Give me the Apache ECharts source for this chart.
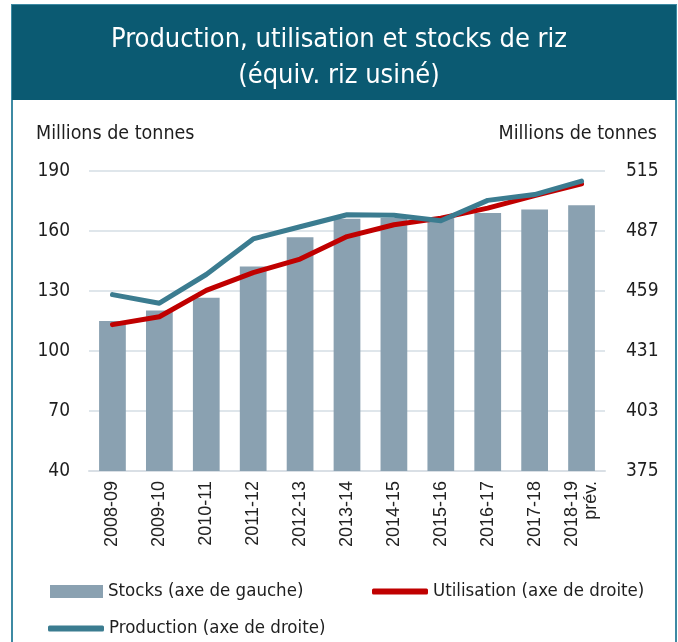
<!DOCTYPE html>
<html>
<head>
<meta charset="utf-8">
<script src="https://cdn.jsdelivr.net/npm/echarts@6/dist/echarts.min.js"></script>
<style>
  html, body { margin: 0; padding: 0; background: #fff; }
  #chart { width: 678px; height: 642px; }
</style>
</head>
<body>
<div id="chart"></div>
<script>
// campagnes
var seasons = ["2008-09", "2009-10", "2010-11", "2011-12", "2012-13", "2013-14",
  "2014-15", "2015-16", "2016-17", "2017-18", "2018-19\nprév."];
// stocks, axe de gauche
var stocks = [115.0, 120.2, 126.6, 142.3, 156.9, 166.1, 166.5, 166.8, 169.0, 170.7, 172.9];
// axe de droite
var utilisation = [443.3, 447.0, 459.3, 467.6, 473.9, 484.4, 489.9, 493.0, 497.7, 503.5, 509.0];
var production = [457.3, 453.3, 466.7, 483.3, 489.0, 494.6, 494.3, 491.8, 501.3, 504.0, 510.3];

var font = "'DejaVu Sans Condensed', 'DejaVu Sans', sans-serif";
var txt = "#1e1e1e";

var chart = echarts.init(document.getElementById("chart"));
chart.setOption({
  animation: false,
  backgroundColor: "#fff",
  graphic: [
    {
      type: "rect",
      z: 0,
      shape: { x: 12, y: 5, width: 664, height: 660 },
      style: { fill: "none", stroke: "#3d8aa3", lineWidth: 2 }
    },
    {
      type: "rect",
      z: 1,
      shape: { x: 12, y: 5, width: 664, height: 95 },
      style: { fill: "#0b5a72" }
    }
  ],
  title: [
    {
      text: "Production, utilisation et stocks de riz\n(équiv. riz usiné)",
      left: "center",
      top: 17,
      textStyle: { color: "#fff", fontFamily: font, fontSize: 27, fontWeight: "normal", lineHeight: 36 }
    },
    {
      text: "Millions de tonnes",
      left: 31,
      top: 119,
      textStyle: { color: txt, fontFamily: font, fontSize: 19.5, fontWeight: "normal" }
    },
    {
      text: "Millions de tonnes",
      right: 16,
      top: 119,
      textStyle: { color: txt, fontFamily: font, fontSize: 19.5, fontWeight: "normal" }
    }
  ],
  grid: { left: 89, right: 73, top: 171, bottom: 171 },
  legend: [
    {
      data: ["Stocks (axe de gauche)"],
      left: 45, top: 577,
      itemWidth: 53, itemHeight: 13, icon: "rect",
      textStyle: { color: txt, fontFamily: font, fontSize: 18.5 }
    },
    {
      data: ["Utilisation (axe de droite)"],
      left: 367, top: 577,
      itemWidth: 56, itemHeight: 6, icon: "roundRect",
      textStyle: { color: txt, fontFamily: font, fontSize: 18.5 }
    },
    {
      data: ["Production (axe de droite)"],
      left: 43, top: 614,
      itemWidth: 56, itemHeight: 6, icon: "roundRect",
      textStyle: { color: txt, fontFamily: font, fontSize: 18.5 }
    }
  ],
  xAxis: {
    type: "category",
    data: seasons,
    axisLine: { lineStyle: { color: "#d9dfe5", width: 2 } },
    axisTick: { show: false },
    axisLabel: {
      interval: 0,
      rotate: 90,
      margin: 10,
      color: "#222",
      fontFamily: "'Liberation Sans', Arial, sans-serif",
      fontSize: 18,
      lineHeight: 19
    }
  },
  yAxis: [
    {
      type: "value",
      min: 40, max: 190, interval: 30,
      axisLine: { show: false },
      axisTick: { show: false },
      splitLine: { lineStyle: { color: "#dfe6eb", width: 2 } },
      axisLabel: { margin: 19, color: txt, fontFamily: font, fontSize: 19 }
    },
    {
      type: "value",
      min: 375, max: 515, interval: 28,
      axisLine: { show: false },
      axisTick: { show: false },
      splitLine: { show: false },
      axisLabel: { margin: 21, color: txt, fontFamily: font, fontSize: 19 }
    }
  ],
  series: [
    {
      name: "Stocks (axe de gauche)",
      type: "bar",
      data: stocks,
      barWidth: "57%",
      itemStyle: { color: "#8aa1b1" }
    },
    {
      name: "Utilisation (axe de droite)",
      type: "line",
      yAxisIndex: 1,
      data: utilisation,
      symbol: "none",
      lineStyle: { color: "#c00000", width: 5, cap: "round", join: "round" },
      itemStyle: { color: "#c00000" }
    },
    {
      name: "Production (axe de droite)",
      type: "line",
      yAxisIndex: 1,
      data: production,
      symbol: "none",
      lineStyle: { color: "#3b7c90", width: 5, cap: "round", join: "round" },
      itemStyle: { color: "#3b7c90" }
    }
  ]
});
</script>
</body>
</html>
